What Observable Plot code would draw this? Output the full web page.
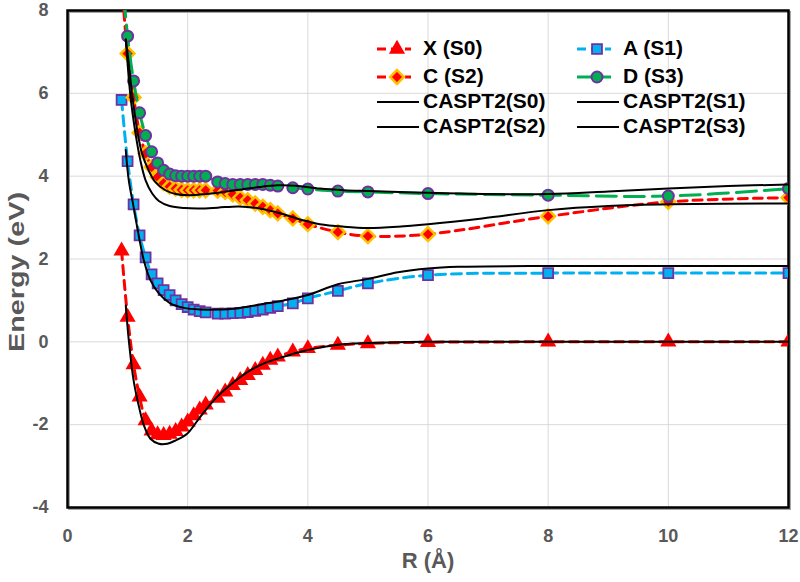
<!DOCTYPE html>
<html><head><meta charset="utf-8">
<script src="https://cdn.jsdelivr.net/npm/d3@7"></script>
<script src="https://cdn.jsdelivr.net/npm/@observablehq/plot@0.6"></script>
<style>body{margin:0;background:#fff;} #chart{width:800px;height:582px;}</style>
</head><body><div id="chart"></div>
<script>
// Bond distance grid of the computed points (Å)
const R = [0.9, 1.0, 1.1, 1.2, 1.3, 1.4, 1.5, 1.6, 1.7, 1.8, 1.9, 2.0, 2.1, 2.2, 2.3,
           2.5, 2.625, 2.75, 2.875, 3.0, 3.125, 3.25, 3.375, 3.5, 3.75, 4.0, 4.5, 5.0, 6.0, 8.0, 10.0, 12.0];
// Series energies (eV)
const X_S0 = [2.2, 0.6, -0.55, -1.33, -1.9, -2.15, -2.24, -2.26, -2.23, -2.16, -2.05, -1.93, -1.78, -1.64, -1.52,
              -1.36, -1.21, -1.05, -0.93, -0.81, -0.69, -0.56, -0.44, -0.36, -0.24, -0.16, -0.08, -0.04, -0.01, 0, 0, 0];
const A_S1 = [5.84, 4.36, 3.32, 2.57, 2.04, 1.63, 1.41, 1.25, 1.13, 1.0, 0.91, 0.84, 0.78, 0.74, 0.71,
              0.68, 0.68, 0.69, 0.7, 0.72, 0.75, 0.78, 0.82, 0.86, 0.93, 1.05, 1.23, 1.41, 1.61, 1.66, 1.66, 1.66];
const C_S2 = [8.7, 6.96, 5.9, 5.05, 4.55, 4.22, 3.98, 3.83, 3.75, 3.7, 3.67, 3.66, 3.66, 3.66, 3.66,
              3.65, 3.62, 3.56, 3.48, 3.42, 3.34, 3.26, 3.18, 3.1, 2.98, 2.84, 2.65, 2.55, 2.6, 3.03, 3.38, 3.48];
const D_S3 = [9.0, 7.38, 6.3, 5.53, 4.98, 4.59, 4.32, 4.14, 4.05, 4.01, 4.0, 4.0, 4.0, 4.0, 4.0,
              3.86, 3.82, 3.8, 3.8, 3.8, 3.8, 3.8, 3.78, 3.76, 3.72, 3.69, 3.64, 3.62, 3.58, 3.54, 3.52, 3.7];

// CASPT2 reference curves
const cR_S0 = [0.97, 1.02, 1.1, 1.19, 1.27, 1.38, 1.52, 1.66, 1.8, 1.99, 2.21, 2.49, 2.77, 3.04, 3.32, 3.6, 3.88, 4.2, 4.5, 5.0, 5.5, 6.0, 7.0, 8.0, 10.0, 12.0];
const cE_S0 = [0.88, 0.04, -0.93, -1.57, -2.01, -2.34, -2.46, -2.46, -2.38, -2.22, -1.81, -1.33, -0.97, -0.69, -0.49, -0.36, -0.24, -0.14, -0.07, -0.03, -0.01, 0, 0, 0, 0, 0];
const cR_S1 = [0.97, 1.02, 1.1, 1.19, 1.27, 1.38, 1.52, 1.71, 1.94, 2.21, 2.49, 2.77, 3.04, 3.32, 3.6, 4.0, 4.5, 5.0, 5.5, 6.0, 6.5, 8.0, 10.0, 12.0];
const cE_S1 = [4.63, 3.9, 3.26, 2.53, 1.97, 1.49, 1.17, 0.93, 0.82, 0.78, 0.78, 0.8, 0.86, 0.93, 1.0, 1.13, 1.39, 1.52, 1.68, 1.77, 1.81, 1.83, 1.83, 1.83];
const cR_S2 = [0.97, 1.05, 1.13, 1.21, 1.3, 1.41, 1.52, 1.7, 1.95, 2.2, 2.5, 2.85, 3.2, 3.55, 3.9, 4.2, 4.6, 5.0, 5.5, 6.0, 6.9, 8.0, 9.0, 10.0, 12.0];
const cE_S2 = [7.3, 5.9, 5.05, 4.4, 3.9, 3.58, 3.4, 3.28, 3.23, 3.22, 3.24, 3.27, 3.22, 3.1, 2.94, 2.84, 2.78, 2.75, 2.78, 2.84, 2.98, 3.18, 3.28, 3.32, 3.34];
const cR_S3 = [0.97, 1.02, 1.08, 1.16, 1.24, 1.35, 1.46, 1.63, 1.8, 2.02, 2.3, 2.6, 2.9, 3.2, 3.5, 3.8, 4.2, 4.6, 5.0, 6.0, 7.0, 8.0, 9.0, 10.0, 11.0, 12.0];
const cE_S3 = [7.3, 6.72, 5.92, 5.11, 4.55, 4.14, 3.86, 3.66, 3.57, 3.54, 3.57, 3.62, 3.68, 3.74, 3.78, 3.77, 3.7, 3.66, 3.64, 3.6, 3.57, 3.57, 3.63, 3.7, 3.76, 3.8];

const xTicks = [0, 2, 4, 6, 8, 10, 12];
const yTicks = [-4, -2, 0, 2, 4, 6, 8];
const legendLabels = ["X (S0)", "A (S1)", "C (S2)", "D (S3)", "CASPT2(S0)", "CASPT2(S1)", "CASPT2(S2)", "CASPT2(S3)"];

const tab = (xs, ys) => xs.map((x, i) => ({R: x, E: ys[i]}));
const dX = tab(R, X_S0), dA = tab(R, A_S1), dC = tab(R, C_S2), dD = tab(R, D_S3);
const c0 = tab(cR_S0, cE_S0), c1 = tab(cR_S1, cE_S1), c2 = tab(cR_S2, cE_S2), c3 = tab(cR_S3, cE_S3);

const RED = "#FF0000", BLUE = "#00B0F0", GREEN = "#00B050", PURPLE = "#7030A0", GOLD = "#FFC000";
const FONT = "'Liberation Sans', Arial, Helvetica, sans-serif";

const lineOpts = (stroke, dash, w) => ({x: "R", y: "E", stroke, strokeWidth: w, strokeDasharray: dash, curve: "catmull-rom", clip: true});
const fmt = d => String(d);

const plot = Plot.plot({
  width: 800, height: 582,
  marginLeft: 67, marginRight: 12, marginTop: 10, marginBottom: 75,
  style: {fontFamily: FONT, fontWeight: "bold", fontSize: "18px", color: "#595959", background: "white", overflow: "visible"},
  x: {domain: [0, 12], label: null},
  y: {domain: [-4, 8], label: null},
  marks: [
    Plot.gridX(xTicks, {stroke: "#D9D9D9", strokeOpacity: 1, strokeWidth: 1}),
    Plot.gridY(yTicks, {stroke: "#D9D9D9", strokeOpacity: 1, strokeWidth: 1}),
    Plot.axisX(xTicks, {tickSize: 0, tickPadding: 22, fontSize: 18, tickFormat: fmt, label: null}),
    Plot.axisY(yTicks, {tickSize: 0, tickPadding: 19, fontSize: 18, tickFormat: fmt, label: null}),
    Plot.frame({stroke: "#A6A6A6", strokeWidth: 2, dx: 1.5, dy: 1.5}),
    Plot.frame({stroke: "black", strokeWidth: 2.5}),
    // X (S0)
    Plot.line(dX, lineOpts(RED, "9,6", 3)),
    Plot.dot(dX, {x: "R", y: "E", symbol: "triangle", r: 6, fill: RED, stroke: "none", clip: true}),
    // A (S1)
    Plot.line(dA, lineOpts(BLUE, "10,6", 3)),
    Plot.dot(dA, {x: "R", y: "E", symbol: "square", r: 5.6, fill: BLUE, stroke: PURPLE, strokeWidth: 1.8, clip: true}),
    // C (S2)
    Plot.line(dC, lineOpts(RED, "9,6", 3)),
    Plot.dot(dC, {x: "R", y: "E", symbol: "diamond2", r: 6.2, fill: RED, stroke: GOLD, strokeWidth: 2.5, clip: true}),
    // D (S3)
    Plot.line(dD, lineOpts(GREEN, "20,8", 3)),
    Plot.dot(dD, {x: "R", y: "E", symbol: "circle", r: 5.5, fill: GREEN, stroke: PURPLE, strokeWidth: 2, clip: true}),
    // CASPT2 curves
    Plot.line(c0, {x: "R", y: "E", stroke: "black", strokeWidth: 2, curve: "catmull-rom", clip: true}),
    Plot.line(c1, {x: "R", y: "E", stroke: "black", strokeWidth: 2, curve: "catmull-rom", clip: true}),
    Plot.line(c2, {x: "R", y: "E", stroke: "black", strokeWidth: 2, curve: "catmull-rom", clip: true}),
    Plot.line(c3, {x: "R", y: "E", stroke: "black", strokeWidth: 2, curve: "catmull-rom", clip: true})
  ]
});

const svg = d3.select(plot);
// axis titles
svg.append("text").attr("x", 428).attr("y", 562).attr("text-anchor", "middle").attr("dominant-baseline", "middle")
  .attr("fill", "#595959").style("font-size", "22px").style("font-weight", "bold").text("R (Å)");
svg.append("text").attr("transform", "translate(18,272) rotate(-90)").attr("text-anchor", "middle").attr("dominant-baseline", "middle")
  .attr("fill", "#595959").style("font-size", "22px").style("font-weight", "bold")
  .attr("textLength", 160).attr("lengthAdjust", "spacingAndGlyphs").text("Energy (eV)");

// legend
const sym = (type, r) => d3.symbol(type, Math.PI * r * r)();
const items = [
  {stroke: RED, dash: "9,5", sym: d3.symbolTriangle, r: 6, fill: RED, ms: "none", msw: 0},
  {stroke: BLUE, dash: "9,5", sym: d3.symbolSquare, r: 5.6, fill: BLUE, ms: PURPLE, msw: 1.8},
  {stroke: RED, dash: "9,5", sym: d3.symbolDiamond2, r: 6.2, fill: RED, ms: GOLD, msw: 2.5},
  {stroke: GREEN, dash: "18,7", sym: d3.symbolCircle, r: 5.5, fill: GREEN, ms: PURPLE, msw: 2},
  {stroke: "black"}, {stroke: "black"}, {stroke: "black"}, {stroke: "black"}
];
const colX = [377, 577], rowY = [49, 77, 102, 127];
const lg = svg.append("g").attr("aria-label", "legend").attr("text-anchor", "start");
items.forEach((it, i) => {
  const cx = colX[i % 2], cy = rowY[Math.floor(i / 2)];
  const g = lg.append("g").attr("transform", `translate(${cx},${cy})`);
  if (it.sym) {
    g.append("line").attr("x1", 0).attr("x2", 34).attr("stroke", it.stroke).attr("stroke-width", 3).attr("stroke-dasharray", it.dash);
    g.append("path").attr("d", sym(it.sym, it.r)).attr("transform", "translate(20,0)")
      .attr("fill", it.fill).attr("stroke", it.ms).attr("stroke-width", it.msw);
  } else {
    g.append("line").attr("x1", 0).attr("x2", 42).attr("stroke", "black").attr("stroke-width", 2);
  }
  g.append("text").attr("x", 46).attr("y", 0).attr("dominant-baseline", "middle").attr("text-anchor", "start")
    .attr("fill", "black").style("font-size", "21px").style("font-weight", "bold").text(legendLabels[i]);
});

document.getElementById("chart").appendChild(plot);
</script>
</body></html>
